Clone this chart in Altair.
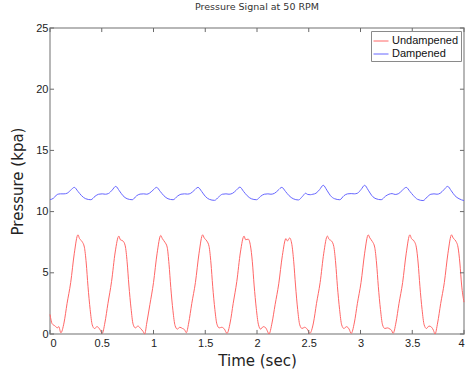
import altair as alt
import pandas as pd

# ---- data ----
series_names = ["Undampened", "Dampened"]
series_colors = ["#ff6666", "#6666ff"]
x_ticks = [0, 0.5, 1, 1.5, 2, 2.5, 3, 3.5, 4]
y_ticks = [0, 5, 10, 15, 20, 25]

red_t = [0.0, 0.02, 0.05, 0.07, 0.085, 0.105,
         0.135, 0.165, 0.2, 0.235, 0.27, 0.285, 0.31, 0.332, 0.35, 0.367, 0.388, 0.408, 0.43, 0.455, 0.48, 0.505,
         0.53, 0.56, 0.595, 0.63, 0.665, 0.68, 0.705, 0.727, 0.745, 0.762, 0.783, 0.803, 0.825, 0.85, 0.875, 0.9, 0.915,
         0.935, 0.965, 1.0, 1.035, 1.07, 1.085, 1.11, 1.132, 1.15, 1.167, 1.188, 1.208, 1.23, 1.255, 1.28, 1.3, 1.317,
         1.34, 1.37, 1.405, 1.44, 1.475, 1.49, 1.515, 1.537, 1.555, 1.572, 1.593, 1.613, 1.635, 1.66, 1.685, 1.71,
         1.74, 1.77, 1.805, 1.84, 1.875, 1.89, 1.915, 1.937, 1.955, 1.972, 1.993, 2.013, 2.035, 2.06, 2.085, 2.1, 2.116,
         2.145, 2.175, 2.21, 2.245, 2.28, 2.295, 2.315, 2.337, 2.355, 2.372, 2.393, 2.413, 2.435, 2.46, 2.485, 2.51,
         2.545, 2.575, 2.61, 2.645, 2.68, 2.695, 2.72, 2.742, 2.76, 2.777, 2.798, 2.818, 2.84, 2.865, 2.89, 2.91,
         2.94, 2.97, 3.005, 3.04, 3.075, 3.09, 3.115, 3.137, 3.155, 3.172, 3.193, 3.213, 3.235, 3.26, 3.285, 3.3, 3.315,
         3.342, 3.372, 3.407, 3.442, 3.477, 3.492, 3.517, 3.539, 3.557, 3.574, 3.595, 3.615, 3.637, 3.662, 3.687, 3.705, 3.72,
         3.745, 3.775, 3.81, 3.845, 3.88, 3.895, 3.92, 3.942, 3.96, 3.977, 4.0]
red_p = [1.6, 0.85, 0.65, 0.5, 0.6, 0.1,
         0.9, 2.5, 4.2, 6.6, 8.1, 7.8, 7.55, 7.1, 5.8, 3.9, 2.0, 0.75, 0.45, 0.6, 0.4, 0.05,
         0.9, 2.5, 4.3, 6.7, 8.0, 7.7, 7.6, 7.2, 5.9, 4.0, 2.1, 0.8, 0.5, 0.65, 0.45, 0.2, 0.0,
         0.9, 2.4, 4.2, 6.6, 8.05, 7.8, 7.5, 7.1, 5.7, 3.8, 1.9, 0.7, 0.4, 0.55, 0.45, 0.35, 0.1,
         0.9, 2.5, 4.2, 6.6, 8.1, 7.85, 7.6, 7.15, 5.8, 3.9, 2.0, 0.8, 0.5, 0.55, 0.4, 0.05,
         0.9, 2.5, 4.3, 6.7, 8.0, 7.7, 7.75, 7.2, 5.9, 4.0, 2.1, 0.8, 0.4, 0.6, 0.5, 0.25, 0.0,
         0.9, 2.4, 4.1, 6.4, 7.8, 7.6, 7.85, 7.3, 5.9, 4.0, 2.0, 0.75, 0.45, 0.55, 0.4, 0.05,
         0.9, 2.5, 4.2, 6.6, 8.0, 7.75, 7.6, 7.15, 5.8, 3.9, 2.0, 0.75, 0.45, 0.6, 0.4, 0.05,
         0.9, 2.5, 4.2, 6.6, 8.1, 7.85, 7.55, 7.1, 5.8, 3.9, 2.0, 0.75, 0.45, 0.5, 0.4, 0.3, 0.05,
         0.9, 2.5, 4.2, 6.6, 8.1, 7.8, 7.6, 7.1, 5.8, 3.9, 2.0, 0.75, 0.45, 0.65, 0.55, 0.3, 0.0,
         0.9, 2.5, 4.2, 6.6, 8.1, 7.85, 7.6, 7.1, 5.8, 4.0, 2.6]

blue_t = [0.0, 0.035, 0.07, 0.1, 0.135, 0.165, 0.2,
          0.235, 0.27, 0.305, 0.345, 0.395, 0.435, 0.47, 0.505, 0.535, 0.565, 0.6,
          0.635, 0.67, 0.705, 0.745, 0.795, 0.835, 0.87, 0.905, 0.935, 0.96, 0.995,
          1.03, 1.065, 1.1, 1.14, 1.19, 1.23, 1.265, 1.3, 1.33, 1.36, 1.395,
          1.43, 1.465, 1.5, 1.54, 1.59, 1.63, 1.665, 1.7, 1.73, 1.765, 1.8,
          1.835, 1.87, 1.905, 1.945, 1.995, 2.035, 2.07, 2.105, 2.135, 2.17, 2.205,
          2.24, 2.275, 2.31, 2.35, 2.4, 2.44, 2.47, 2.49, 2.515, 2.54, 2.57, 2.605,
          2.64, 2.675, 2.71, 2.75, 2.8, 2.84, 2.875, 2.91, 2.94, 2.97, 3.005,
          3.04, 3.075, 3.11, 3.15, 3.2, 3.24, 3.275, 3.305, 3.335, 3.37, 3.405,
          3.442, 3.477, 3.512, 3.552, 3.605, 3.645, 3.68, 3.71, 3.74, 3.77, 3.805,
          3.842, 3.877, 3.912, 3.952, 4.0]
blue_p = [10.97, 11.1, 11.4, 11.45, 11.45, 11.5, 11.75,
          11.98, 11.65, 11.3, 11.05, 10.97, 11.25, 11.42, 11.45, 11.42, 11.48, 11.75,
          12.06, 11.7, 11.3, 11.05, 10.97, 11.28, 11.43, 11.45, 11.42, 11.5, 11.75,
          11.98, 11.65, 11.3, 11.05, 10.97, 11.25, 11.42, 11.45, 11.43, 11.5, 11.75,
          11.98, 11.65, 11.25, 11.0, 10.92, 11.2, 11.42, 11.45, 11.42, 11.5, 11.75,
          12.0, 11.65, 11.3, 11.05, 10.97, 11.25, 11.42, 11.45, 11.42, 11.5, 11.75,
          11.98, 11.65, 11.3, 11.05, 10.95, 11.25, 11.5, 11.4, 11.38, 11.42, 11.5, 11.8,
          12.15, 11.75, 11.3, 11.05, 10.97, 11.3, 11.45, 11.47, 11.45, 11.5, 11.8,
          12.15, 11.75, 11.3, 11.05, 10.97, 11.25, 11.42, 11.47, 11.4, 11.48, 11.75,
          11.98, 11.65, 11.3, 11.0, 10.9, 11.2, 11.42, 11.45, 11.42, 11.5, 11.78,
          12.06, 11.7, 11.3, 11.05, 10.9]

# ---- build tables ----
df = pd.concat([
    pd.DataFrame({"t": red_t, "p": red_p, "series": series_names[0]}),
    pd.DataFrame({"t": blue_t, "p": blue_p, "series": series_names[1]}),
], ignore_index=True)

XMIN, XMAX, YMIN, YMAX = 0, 4, 0, 25
tl_x = 0.039   # inward tick length in x data units (~4px)
tl_y = 0.33    # inward tick length in y data units (~4px)
rows = []
for v in x_ticks:
    rows.append({"t": v, "t2": v, "p": YMIN, "p2": YMIN + tl_y})
    rows.append({"t": v, "t2": v, "p": YMAX, "p2": YMAX - tl_y})
for v in y_ticks:
    rows.append({"t": XMIN, "t2": XMIN + tl_x, "p": v, "p2": v})
    rows.append({"t": XMAX, "t2": XMAX - tl_x, "p": v, "p2": v})
ticks_df = pd.DataFrame(rows)

x_scale = alt.Scale(domain=[XMIN, XMAX], nice=False, zero=False)
y_scale = alt.Scale(domain=[YMIN, YMAX], nice=False)
x_axis = alt.Axis(values=x_ticks, format="~g", title="Time (sec)",
                  labelPadding=3, titleX=207, titleY=26,
                  titleBaseline="middle", titleAlign="center")
y_axis = alt.Axis(values=y_ticks, title="Pressure (kpa)",
                  labelPadding=2, titleX=-33, titleY=153,
                  titleBaseline="middle", titleAlign="center")

lines = alt.Chart(df).mark_line(strokeWidth=1, interpolate="monotone").encode(
    x=alt.X("t:Q", scale=x_scale, axis=x_axis, title="Time (sec)"),
    y=alt.Y("p:Q", scale=y_scale, axis=y_axis, title="Pressure (kpa)"),
    color=alt.Color("series:N",
                    scale=alt.Scale(domain=series_names, range=series_colors),
                    sort=series_names,
                    legend=alt.Legend(title=None, orient="none", legendX=321, legendY=3,
                                      symbolType="stroke", symbolSize=225,
                                      symbolStrokeWidth=1, labelFont="Liberation Sans",
                                      labelFontSize=11, labelColor="#111",
                                      labelOffset=3, rowPadding=0, padding=2,
                                      strokeColor="#8a8a8a", fillColor="white")),
)

tick_marks = alt.Chart(ticks_df).mark_rule(color="#6a6a6a", strokeWidth=1).encode(
    x=alt.X("t:Q", scale=x_scale, axis=x_axis, title="Time (sec)"),
    x2="t2:Q",
    y=alt.Y("p:Q", scale=y_scale, axis=y_axis, title="Pressure (kpa)"),
    y2="p2:Q",
)

chart = alt.layer(lines, tick_marks).properties(
    width=414,
    height=306,
    background="white",
    autosize=alt.AutoSizeParams(type="none"),
    padding={"left": 50, "top": 28, "right": 4, "bottom": 41},
    title=alt.TitleParams("Pressure Signal at 50 RPM", font="DejaVu Sans", fontSize=9.5,
                          fontWeight="normal", color="#333333", anchor="middle",
                          frame="group", baseline="bottom", offset=1),
).configure_view(
    stroke="#a0a0a0", strokeWidth=1.5
).configure_axis(
    domain=False, ticks=False, grid=False,
    labelFont="Liberation Sans", labelFontSize=11, labelColor="#222222",
    titleFont="DejaVu Sans", titleFontSize=15, titleFontWeight="normal", titleColor="#222222",
)

chart.save("out.html", embed_options={"renderer": "svg", "actions": False})
